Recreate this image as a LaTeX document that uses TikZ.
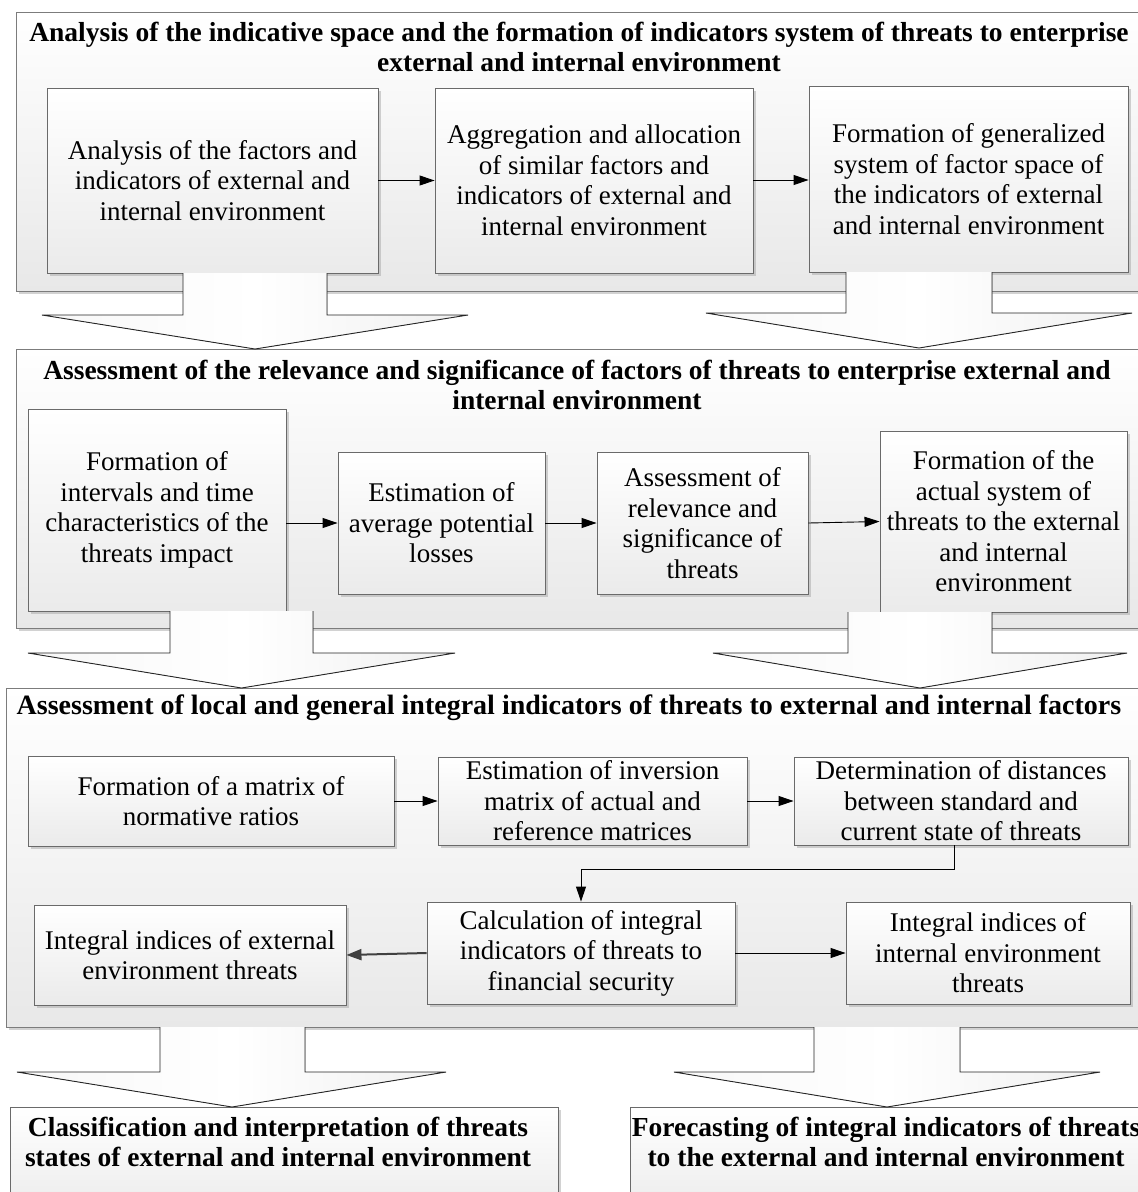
\documentclass[tikz,border=0pt]{standalone}
\usepackage{fontspec}
\setmainfont{Liberation Serif}
\usetikzlibrary{shadows,arrows.meta,calc}
\definecolor{boxline}{HTML}{6A6A6A}
\definecolor{panelline}{HTML}{7C7C7C}
\definecolor{darkconn}{HTML}{404040}
\tikzset{
  body/.style={font=\fontsize{27}{30.5}\selectfont, align=center, inner sep=2pt},
  ttl/.style={font=\bfseries\fontsize{27.5}{30}\selectfont, align=center, inner sep=0pt},
  panel/.style={draw=panelline, line width=0.9pt, top color=white, bottom color=black!9,
    drop shadow={shadow xshift=2.5pt, shadow yshift=-2.5pt, fill=black!35, opacity=0.5}},
  box/.style={body, draw=boxline, line width=0.9pt, top color=white, bottom color=black!8,
    drop shadow={shadow xshift=3pt, shadow yshift=-3pt, fill=black!35, opacity=0.5}},
  conn/.style={-{Triangle[length=15pt,width=10pt]}, line width=0.9pt, black},
  connb/.style={-{Triangle[length=15pt,width=11pt]}, line width=2pt, darkconn},
  bafill/.style={left color=black!3, right color=black!6, middle color=white},
  baline/.style={draw=black!85, line width=0.9pt, line join=miter},
}
\begin{document}
\begin{tikzpicture}[x=1pt,y=-1pt]
\useasboundingbox (0,0) rectangle (1138,1192);
\clip (0,0) rectangle (1138,1192);

% ---------- panel 1
\node[panel, minimum width=1134, minimum height=279] (P1) at (583,151.5) {};
\node[ttl] (T1) at (579,47) {Analysis of the indicative space and the formation of indicators system of threats to enterprise\\external and internal environment};
\node[box, minimum width=331, minimum height=185] (A1) at (212.5,180.5) {Analysis of the factors and\\indicators of external and\\internal environment};
\node[box, minimum width=318, minimum height=185] (A2) at (594,180.5) {Aggregation and allocation\\of similar factors and\\indicators of external and\\internal environment};
\node[box, minimum width=319, minimum height=186] (A3) at (968.5,179) {Formation of generalized\\system of factor space of\\the indicators of external\\and internal environment};
\draw[conn] (A1.east) -- (A2.west);
\draw[conn] (A2.east) -- ++(24,0) |- ([yshift=-1pt]A3.west);

% ---------- panel 2
\node[panel, minimum width=1134, minimum height=279] (P2) at (583,488.5) {};
\node[ttl] (T2) at (577,385) {Assessment of the relevance and significance of factors of threats to enterprise external and\\internal environment};
\node[box, minimum width=258, minimum height=202] (B1) at (157,510) {Formation of\\intervals and time\\characteristics of the\\threats impact};
\node[box, minimum width=207, minimum height=142] (B2) at (441.5,523) {Estimation of\\average potential\\losses};
\node[box, minimum width=211, minimum height=142] (B3) at (702.5,523) {Assessment of\\relevance and\\significance of\\threats};
\node[box, minimum width=247, minimum height=181] (B4) at (1003.5,521.5) {Formation of the\\actual system of\\threats to the external\\and internal\\environment};
\draw[conn] (B1.east |- B2.west) -- (B2.west);
\draw[conn] (B2.east) -- (B3.west);
\draw[conn] (B3.east) -- (B4.west);

% ---------- panel 3
\node[panel, minimum width=1144, minimum height=339] (P3) at (578,857.5) {};
\node[ttl, font=\bfseries\fontsize{28}{30}\selectfont] (T3) at (569,708) {Assessment of local and general integral indicators of threats to external and internal factors};
\node[box, minimum width=366, minimum height=90] (C1) at (211,801) {Formation of a matrix of\\normative ratios};
\node[box, minimum width=309, minimum height=88] (C2) at (592.5,801) {Estimation of inversion\\matrix of actual and\\reference matrices};
\node[box, minimum width=334, minimum height=88] (C3) at (961,801) {Determination of distances\\between standard and\\current state of threats};
\node[box, minimum width=312, minimum height=100] (D1) at (190,955) {Integral indices of external\\environment threats};
\node[box, minimum width=308, minimum height=102] (D2) at (581,953) {Calculation of integral\\indicators of threats to\\financial security};
\node[box, minimum width=284, minimum height=102] (D3) at (988,953) {Integral indices of\\internal environment\\threats};
\draw[conn] (C1.east) -- (C2.west);
\draw[conn] (C2.east) -- (C3.west);
\draw[conn] ([xshift=-7pt]C3.south) -- ++(0,24) -| (D2.north);
\draw[connb] (D2.west) -- (D1.east);
\draw[conn] (D2.east) -- (D3.west);

% ---------- bottom boxes
\node[box, minimum width=548, minimum height=110] (E1) at (284,1162) {};
\node[ttl] (E1t) at (278,1142) {Classification and interpretation of threats\\states of external and internal environment};
\node[box, minimum width=530, minimum height=110] (E2) at (895,1162) {};
\node[ttl] (E2t) at (886,1142) {Forecasting of integral indicators of threats\\to the external and internal environment};

% ---------- block arrows
\foreach \sl/\sr/\st/\nk/\hl/\hr/\tx/\ty in {
   183/327/273/315/42/468/255/349,
   846/992/272/313/706/1132/919/348,
   170/313/611/653/28/455/241.5/688,
   848/992/612/653/713/1127/920/688,
   160/305/1027/1072/17/446/232/1107,
   814/960/1027/1072/674/1100/887/1107}{
  \fill[bafill] (\sl,\st) -- (\sl,\nk) -- (\hl,\nk) -- (\tx,\ty) -- (\hr,\nk) -- (\sr,\nk) -- (\sr,\st) -- cycle;
  \draw[baline] (\sl,\st) -- (\sl,\nk) -- (\hl,\nk) -- (\tx,\ty) -- (\hr,\nk) -- (\sr,\nk) -- (\sr,\st);
}
\end{tikzpicture}
\end{document}
